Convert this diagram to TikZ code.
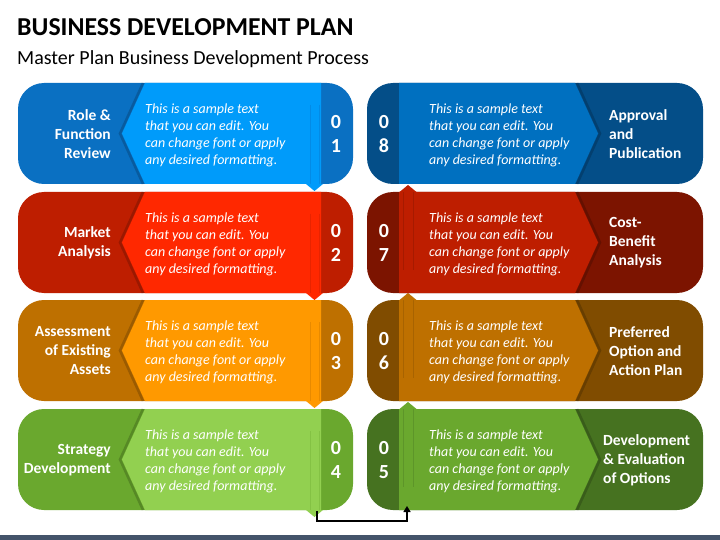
\documentclass[tikz,border=0pt]{standalone}
\usepackage{fontspec}
\setmainfont{Carlito}
\usetikzlibrary{arrows.meta}
\definecolor{d1}{RGB}{10,112,194}
\definecolor{l1}{RGB}{0,155,250}
\definecolor{d2}{RGB}{190,30,0}
\definecolor{l2}{RGB}{255,40,0}
\definecolor{d3}{RGB}{190,112,0}
\definecolor{l3}{RGB}{255,153,0}
\definecolor{d4}{RGB}{106,168,46}
\definecolor{l4}{RGB}{146,208,80}
\definecolor{d8}{RGB}{4,78,136}
\definecolor{l8}{RGB}{0,112,192}
\definecolor{d7}{RGB}{124,20,0}
\definecolor{l7}{RGB}{190,30,0}
\definecolor{d6}{RGB}{128,76,0}
\definecolor{l6}{RGB}{190,112,0}
\definecolor{d5}{RGB}{70,114,32}
\definecolor{l5}{RGB}{106,168,46}
\definecolor{band}{RGB}{68,84,106}
\tikzset{
  desc/.style={text=white,font=\fontsize{14}{17}\selectfont\itshape,align=left,inner sep=0pt},
  lbl/.style={text=white,font=\fontsize{15.5}{19}\selectfont\bfseries,inner sep=0pt},
  num/.style={text=white,font=\fontsize{20}{24}\selectfont\bfseries,align=center,inner sep=0pt},
  shaft/.style={line width=1pt,draw opacity=0.35},
  chevshade/.style={line width=2.5pt,draw=black,draw opacity=0.18},
}
\newcommand{\DescText}{This is a sample text\\that you can edit. You\\can change font or apply\\any desired formatting.}
% #1 top, #2 dark, #3 light, #4 label, #5 number, #6 id
\newcommand{\LeftRow}[6]{%
  \fill[#2,rounded corners=26pt] (18,#1) rectangle (353,#1+101);
  \draw[chevshade] (143,#1) -- (120,#1+50.5) -- (143,#1+101);
  \fill[#3] (145,#1) -- (321,#1) -- (321,#1+101) -- (145,#1+101) -- (122,#1+50.5) -- cycle;
  \draw[shaft,draw=#2] (310,#1+22) -- (310,#1+101);
  \draw[shaft,draw=#2] (319,#1+22) -- (319,#1+101);
  \fill[#3] (306,#1+101) -- (323,#1+101) -- (314.5,#1+108) -- cycle;
  \node[desc,anchor=west] (desc#6) at (145,#1+52) {\DescText};
  \node[lbl,align=right,anchor=east] (lbl#6) at (111,#1+51) {#4};
  \node[num] (num#6) at (336,#1+51) {#5};
}
% #1 top, #2 dark, #3 light, #4 label, #5 number, #6 id, #7 label x
\newcommand{\RightPanel}[7]{%
  \fill[#2,rounded corners=26pt] (367,#1) rectangle (703,#1+101);
  \draw[chevshade] (577,#1) -- (600,#1+50.5) -- (577,#1+101);
  \fill[#3] (399,#1) -- (575,#1) -- (598,#1+50.5) -- (575,#1+101) -- (399,#1+101) -- cycle;
  \node[desc,anchor=west] (desc#6) at (429,#1+52) {\DescText};
  \node[lbl,align=left,anchor=west] (lbl#6) at (#7,#1+51) {#4};
  \node[num] (num#6) at (384,#1+51) {#5};
}
% #1 top, #2 dark, #3 light
\newcommand{\RightArrow}[3]{%
  \draw[shaft,draw=#2] (403,#1) -- (403,#1+78);
  \draw[shaft,draw=#2] (413,#1) -- (413,#1+78);
  \fill[#3] (399.5,#1) -- (416.5,#1) -- (408,#1-7) -- cycle;
}
\begin{document}
\begin{tikzpicture}[x=1pt,y=-1pt]
\useasboundingbox (0,0) rectangle (720,540);
\fill[white] (0,0) rectangle (720,540);
\node[anchor=base west,inner sep=0pt,font=\fontsize{25.8}{30}\selectfont\bfseries] (title) at (17,36) {BUSINESS DEVELOPMENT PLAN};
\node[anchor=base west,inner sep=0pt,font=\fontsize{20}{24}\selectfont] (subtitle) at (17,65) {Master Plan Business Development Process};
\RightPanel{409}{d5}{l5}{Development\\\& Evaluation\\of Options}{0\\5}{5}{603}
\RightArrow{409}{d5}{l5}
\RightPanel{300}{d6}{l6}{Preferred\\Option and\\Action Plan}{0\\6}{6}{609}
\RightArrow{300}{d6}{l6}
\RightPanel{192}{d7}{l7}{Cost-\\Benefit\\Analysis}{0\\7}{7}{609}
\RightArrow{192}{d7}{l7}
\RightPanel{83}{d8}{l8}{Approval\\and\\Publication}{0\\8}{8}{609}
\LeftRow{83}{d1}{l1}{Role \&\\Function\\Review}{0\\1}{1}
\LeftRow{192}{d2}{l2}{Market\\Analysis}{0\\2}{2}
\LeftRow{300}{d3}{l3}{Assessment\\of Existing\\Assets}{0\\3}{3}
\LeftRow{409}{d4}{l4}{Strategy\\Development}{0\\4}{4}
\coordinate (c4) at (317,511);
\coordinate (c5) at (407,506);
\draw[line width=1.6pt,-{Triangle[length=6pt,width=7pt]}] (c4) -- ++(0,10) -| (c5);
\fill[band] (0,535) rectangle (720,540);
\end{tikzpicture}
\end{document}
